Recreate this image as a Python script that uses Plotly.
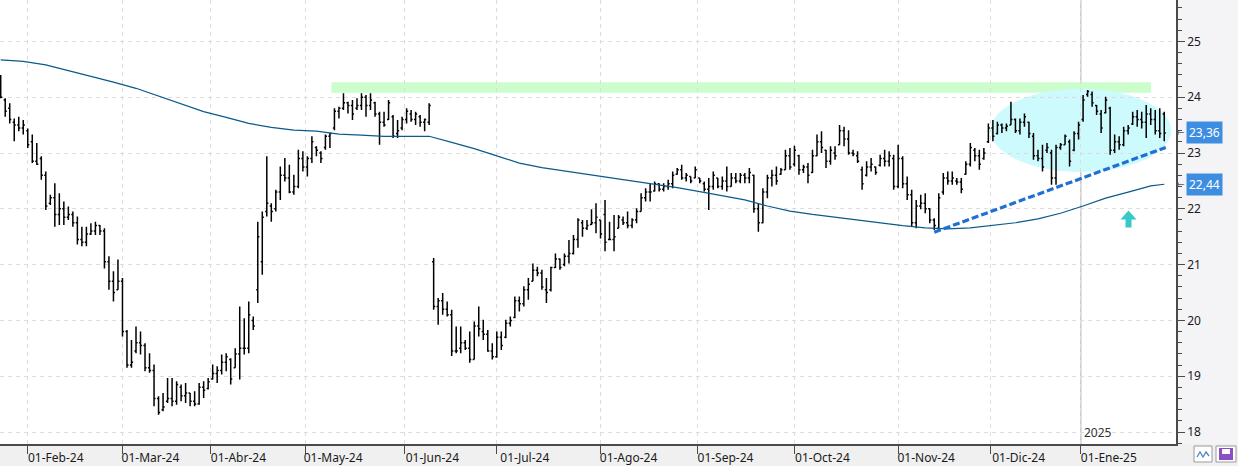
import pandas as pd
import plotly.graph_objects as go

# ---------------- data ----------------
FIRST_DAY = "2024-01-24"
LAST_DAY = "2025-01-28"
HOLIDAYS = ["2024-03-29", "2024-04-01", "2024-05-01", "2024-12-25", "2024-12-26", "2025-01-01"]

HIGH = [24.40, 23.98, 23.89, 23.62, 23.65, 23.59, 23.44, 23.33, 23.18, 22.94,
        22.67, 22.25, 22.46, 22.28, 22.13, 22.04, 21.95, 21.86, 21.68, 21.68,
        21.74, 21.77, 21.71, 21.65, 21.15, 20.88, 21.09, 20.76, 19.83, 19.65,
        19.89, 19.80, 19.59, 19.41, 19.21, 18.64, 18.70, 18.97, 18.97, 18.91,
        18.85, 18.88, 18.70, 18.73, 18.88, 18.91, 18.97, 19.21, 19.18, 19.39,
        19.41, 19.32, 19.50, 20.25, 20.04, 20.34, 20.07, 21.77, 21.95, 22.94,
        22.10, 22.34, 22.76, 22.91, 22.79, 22.61, 23.06, 23.03, 22.94, 23.30,
        23.12, 23.03, 23.33, 23.36, 23.80, 23.83, 24.07, 23.92, 23.95, 23.98,
        24.07, 24.04, 24.07, 23.92, 23.74, 23.74, 23.95, 23.68, 23.59, 23.65,
        23.80, 23.77, 23.74, 23.68, 23.62, 23.89, 21.12, 20.40, 20.49, 20.34,
        20.19, 19.89, 19.89, 19.65, 19.80, 19.98, 20.25, 20.01, 19.83, 19.59,
        19.80, 19.80, 20.01, 20.07, 20.43, 20.43, 20.61, 20.76, 21.02, 20.96,
        20.91, 20.76, 20.96, 21.20, 21.11, 21.20, 21.44, 21.53, 21.83, 21.80,
        21.80, 21.99, 22.10, 21.80, 22.16, 21.77, 21.89, 21.89, 21.86, 21.95,
        21.83, 22.01, 22.28, 22.37, 22.46, 22.49, 22.46, 22.46, 22.52, 22.67,
        22.73, 22.79, 22.64, 22.58, 22.76, 22.55, 22.49, 22.55, 22.67, 22.55,
        22.58, 22.76, 22.64, 22.64, 22.64, 22.64, 22.73, 22.61, 22.10, 22.37,
        22.61, 22.70, 22.76, 22.73, 23.06, 23.09, 23.13, 22.97, 22.79, 22.82,
        23.06, 23.33, 23.39, 23.06, 23.12, 23.12, 23.50, 23.47, 23.41, 23.06,
        23.03, 22.76, 22.85, 22.91, 22.76, 22.97, 23.06, 23.03, 22.97, 23.15,
        22.94, 22.58, 22.34, 22.16, 22.25, 22.28, 22.01, 21.83, 22.28, 22.64,
        22.67, 22.67, 22.55, 22.55, 22.85, 23.18, 23.09, 23.06, 23.09, 23.53,
        23.59, 23.56, 23.53, 23.53, 23.92, 23.62, 23.62, 23.71, 23.56, 23.36,
        23.06, 23.15, 23.18, 23.06, 23.15, 23.18, 23.33, 23.24, 23.39, 23.56,
        24.04, 24.13, 24.10, 23.86, 23.77, 24.01, 23.83, 23.33, 23.30, 23.47,
        23.50, 23.74, 23.77, 23.74, 23.86, 23.80, 23.77, 23.80, 23.74]

LOW = [23.98, 23.65, 23.53, 23.21, 23.39, 23.33, 23.09, 22.82, 22.79, 22.52,
       21.98, 22.07, 21.68, 21.71, 21.71, 21.80, 21.68, 21.36, 21.33, 21.33,
       21.53, 21.53, 21.53, 20.93, 20.55, 20.34, 20.55, 19.71, 19.15, 19.15,
       19.41, 19.39, 19.09, 19.06, 18.46, 18.31, 18.37, 18.52, 18.46, 18.49,
       18.55, 18.52, 18.46, 18.46, 18.49, 18.61, 18.76, 18.94, 18.88, 19.03,
       19.09, 18.85, 19.15, 18.94, 19.39, 19.41, 19.83, 20.31, 20.82, 21.86,
       21.77, 21.95, 22.16, 22.49, 22.28, 22.25, 22.37, 22.67, 22.58, 22.82,
       22.94, 22.82, 23.06, 23.09, 23.41, 23.62, 23.77, 23.71, 23.59, 23.77,
       23.77, 23.65, 23.77, 23.65, 23.15, 23.47, 23.59, 23.27, 23.27, 23.41,
       23.53, 23.56, 23.50, 23.47, 23.39, 23.50, 20.19, 19.92, 20.10, 20.07,
       19.36, 19.41, 19.41, 19.47, 19.24, 19.30, 19.71, 19.65, 19.44, 19.30,
       19.33, 19.47, 19.68, 19.89, 20.04, 20.16, 20.25, 20.37, 20.70, 20.79,
       20.55, 20.31, 20.52, 20.94, 20.91, 20.97, 21.02, 21.18, 21.30, 21.50,
       21.62, 21.71, 21.56, 21.47, 21.24, 21.44, 21.24, 21.65, 21.71, 21.65,
       21.65, 21.74, 21.95, 22.13, 22.13, 22.31, 22.31, 22.31, 22.34, 22.37,
       22.61, 22.52, 22.49, 22.46, 22.55, 22.46, 22.31, 21.98, 22.34, 22.37,
       22.34, 22.31, 22.40, 22.46, 22.46, 22.46, 22.46, 21.93, 21.59, 21.74,
       22.19, 22.40, 22.43, 22.61, 22.70, 22.70, 22.76, 22.61, 22.64, 22.46,
       22.64, 22.94, 23.00, 22.73, 22.79, 22.88, 23.15, 23.12, 22.97, 22.94,
       22.82, 22.34, 22.58, 22.67, 22.61, 22.76, 22.76, 22.76, 22.34, 22.37,
       22.37, 22.16, 21.68, 21.65, 21.99, 21.92, 21.74, 21.62, 21.62, 22.25,
       22.43, 22.43, 22.43, 22.28, 22.61, 22.76, 22.85, 22.70, 22.88, 23.18,
       23.21, 23.33, 23.36, 23.39, 23.50, 23.36, 23.33, 23.47, 23.27, 22.88,
       22.85, 22.67, 23.00, 22.43, 22.43, 23.06, 23.15, 22.76, 23.03, 23.24,
       23.56, 24.01, 23.83, 23.68, 23.36, 23.71, 22.97, 23.00, 23.06, 23.12,
       23.33, 23.50, 23.47, 23.44, 23.27, 23.50, 23.33, 23.27, 23.21]

OPEN = [24.35, 23.95, 23.80, 23.55, 23.50, 23.45, 23.40, 23.20, 22.85, 22.90,
        22.60, 22.10, 22.20, 21.90, 22.00, 21.85, 21.90, 21.75, 21.45, 21.40,
        21.55, 21.60, 21.70, 21.60, 21.05, 20.70, 20.55, 20.70, 19.80, 19.20,
        19.45, 19.60, 19.55, 19.15, 19.10, 18.60, 18.40, 18.55, 18.60, 18.55,
        18.80, 18.65, 18.70, 18.55, 18.50, 18.80, 18.78, 18.95, 19.05, 19.10,
        19.25, 19.30, 19.15, 19.40, 19.50, 19.50, 20.00, 20.55, 21.05, 21.95,
        22.05, 22.00, 22.30, 22.60, 22.55, 22.30, 22.40, 22.90, 22.75, 22.90,
        23.10, 23.00, 23.10, 23.30, 23.45, 23.75, 23.80, 23.90, 23.85, 23.80,
        23.85, 24.00, 23.85, 23.90, 23.70, 23.55, 23.60, 23.65, 23.35, 23.45,
        23.60, 23.70, 23.60, 23.65, 23.55, 23.55, 21.05, 20.25, 20.35, 20.20,
        20.10, 19.45, 19.50, 19.60, 19.50, 19.30, 19.90, 19.80, 19.75, 19.45,
        19.35, 19.70, 19.70, 19.95, 20.05, 20.35, 20.30, 20.55, 20.70, 20.90,
        20.85, 20.55, 20.55, 20.95, 21.10, 21.00, 21.15, 21.20, 21.45, 21.75,
        21.65, 21.72, 21.75, 21.80, 21.90, 21.45, 21.45, 21.65, 21.80, 21.75,
        21.70, 21.80, 21.95, 22.20, 22.30, 22.32, 22.45, 22.35, 22.40, 22.45,
        22.62, 22.70, 22.55, 22.58, 22.55, 22.55, 22.45, 22.35, 22.40, 22.55,
        22.40, 22.50, 22.40, 22.55, 22.50, 22.60, 22.55, 22.60, 22.00, 21.75,
        22.30, 22.55, 22.60, 22.62, 22.70, 22.95, 22.80, 22.95, 22.70, 22.75,
        22.65, 22.95, 23.20, 23.05, 22.85, 23.00, 23.15, 23.40, 23.25, 23.00,
        22.95, 22.70, 22.60, 22.75, 22.75, 22.78, 22.90, 22.85, 22.90, 22.40,
        22.90, 22.45, 22.25, 21.75, 22.05, 22.10, 22.00, 21.80, 21.65, 22.30,
        22.55, 22.50, 22.50, 22.48, 22.62, 22.80, 23.05, 22.95, 22.90, 23.20,
        23.45, 23.35, 23.50, 23.45, 23.50, 23.60, 23.40, 23.55, 23.55, 23.30,
        22.95, 22.90, 23.05, 23.00, 22.55, 23.10, 23.15, 23.20, 23.05, 23.35,
        23.60, 24.05, 24.05, 23.85, 23.70, 23.72, 23.80, 23.05, 23.20, 23.15,
        23.40, 23.52, 23.65, 23.60, 23.55, 23.70, 23.60, 23.40, 23.70]

CLOSE = [24.00, 23.75, 23.60, 23.50, 23.45, 23.50, 23.15, 22.85, 22.80, 22.60,
         22.05, 22.20, 21.90, 22.00, 21.85, 21.90, 21.75, 21.45, 21.40, 21.55,
         21.60, 21.70, 21.60, 21.05, 20.70, 20.50, 20.70, 19.80, 19.20, 19.25,
         19.60, 19.55, 19.15, 19.10, 18.60, 18.35, 18.45, 18.60, 18.55, 18.85,
         18.65, 18.70, 18.55, 18.50, 18.80, 18.75, 18.90, 19.05, 19.10, 19.25,
         19.35, 18.95, 19.40, 19.50, 19.50, 20.10, 19.90, 21.50, 21.85, 22.10,
         21.95, 22.30, 22.60, 22.55, 22.30, 22.40, 22.90, 22.75, 22.90, 23.20,
         23.05, 22.90, 23.30, 23.35, 23.75, 23.80, 23.90, 23.85, 23.70, 23.85,
         24.00, 23.85, 23.95, 23.70, 23.55, 23.50, 23.90, 23.30, 23.40, 23.60,
         23.75, 23.60, 23.70, 23.55, 23.60, 23.85, 20.25, 20.35, 20.20, 20.10,
         19.45, 19.45, 19.60, 19.50, 19.30, 19.90, 19.85, 19.75, 19.45, 19.35,
         19.70, 19.55, 19.95, 20.00, 20.35, 20.30, 20.55, 20.65, 20.90, 20.85,
         20.60, 20.50, 20.95, 21.10, 20.95, 21.15, 21.20, 21.45, 21.80, 21.65,
         21.70, 21.75, 21.85, 21.55, 21.40, 21.45, 21.50, 21.85, 21.75, 21.70,
         21.80, 21.95, 22.20, 22.30, 22.30, 22.45, 22.35, 22.40, 22.45, 22.60,
         22.70, 22.55, 22.60, 22.50, 22.70, 22.50, 22.35, 22.40, 22.60, 22.40,
         22.50, 22.40, 22.55, 22.50, 22.60, 22.55, 22.65, 22.00, 21.75, 22.30,
         22.55, 22.60, 22.50, 22.70, 22.95, 22.75, 23.05, 22.70, 22.75, 22.60,
         22.95, 23.20, 23.10, 22.85, 23.05, 22.95, 23.40, 23.25, 23.00, 22.98,
         22.85, 22.45, 22.75, 22.80, 22.65, 22.90, 22.85, 22.95, 22.40, 22.90,
         22.45, 22.25, 21.75, 22.05, 22.10, 22.00, 21.80, 21.70, 22.20, 22.55,
         22.50, 22.55, 22.48, 22.35, 22.80, 23.10, 22.95, 22.80, 23.00, 23.45,
         23.30, 23.50, 23.45, 23.48, 23.60, 23.40, 23.55, 23.65, 23.35, 22.95,
         22.90, 22.75, 23.10, 22.55, 23.10, 23.15, 23.30, 22.85, 23.35, 23.50,
         23.95, 24.10, 23.90, 23.75, 23.45, 23.95, 23.05, 23.20, 23.15, 23.40,
         23.45, 23.65, 23.60, 23.55, 23.70, 23.60, 23.40, 23.35, 23.36]

# long moving average, read every 5 sessions (session number, 1-based)
MA_SESSION = list(range(1, 257, 5)) + [259]
MA_VALUES = [24.67, 24.64, 24.58, 24.48, 24.37, 24.27, 24.16, 24.02, 23.89, 23.74,
             23.64, 23.53, 23.46, 23.41, 23.39, 23.34, 23.32, 23.30, 23.30, 23.30,
             23.19, 23.08, 22.95, 22.82, 22.74, 22.68, 22.62, 22.57, 22.51, 22.45,
             22.38, 22.31, 22.23, 22.16, 22.05, 21.96, 21.90, 21.85, 21.80, 21.74,
             21.70, 21.66, 21.64, 21.66, 21.71, 21.75, 21.82, 21.92, 22.05, 22.19,
             22.30, 22.41, 22.44]

# support trend line (dashed blue)
TREND_DATES = ["2024-11-13 12:00", "2025-01-28 20:00"]
TREND_VALUES = [21.58, 23.10]

# resistance band and highlighted zone
BAND_DATES = ["2024-05-09 20:00", "2025-01-23 14:00"]
BAND_VALUES = [24.08, 24.27]
ZONE_DATES = ["2024-12-02 00:00", "2025-01-30 01:00"]
ZONE_VALUES = [22.66, 24.15]

MONTH_LABELS = ["01-Feb-24", "01-Mar-24", "01-Abr-24", "01-May-24", "01-Jun-24", "01-Jul-24",
                "01-Ago-24", "01-Sep-24", "01-Oct-24", "01-Nov-24", "01-Dic-24", "01-Ene-25"]
MONTH_STARTS = ["2024-02-01", "2024-03-01", "2024-04-01", "2024-05-01", "2024-06-01", "2024-07-01",
                "2024-08-01", "2024-09-01", "2024-10-01", "2024-11-01", "2024-12-01", "2025-01-01"]
Y_TICKS = [18, 19, 20, 21, 22, 23, 24, 25]

# ---------------- build ----------------
hol = pd.to_datetime(HOLIDAYS)
days = pd.bdate_range(FIRST_DAY, LAST_DAY)
days = days[~days.isin(hol)]
assert len(days) == len(HIGH) == len(LOW) == len(OPEN) == len(CLOSE)
x_days = days + pd.Timedelta(hours=12)

ma_x = [x_days[i - 1] for i in MA_SESSION]

tickvals = []
for m in MONTH_STARTS:
    d = pd.Timestamp(m)
    first = days[days >= d][0]
    tickvals.append(first + pd.Timedelta(hours=12) if first == d else first)

W, H = 1238, 466
ML, MR, MT, MB = 0, 62, 0, 22
PW, PH = W - ML - MR, H - MT - MB


def px(v):
    return (v - ML) / PW


def py(v):
    return 1 - (v - MT) / PH


FONT = "Noto Sans, Open Sans, sans-serif"
GRID = "#dcdcdc"
AX = "#4a4a4a"

fig = go.Figure()

fig.add_trace(go.Ohlc(
    x=x_days, open=OPEN, high=HIGH, low=LOW, close=CLOSE,
    increasing=dict(line=dict(color="#000000", width=1.5)),
    decreasing=dict(line=dict(color="#000000", width=1.5)),
    tickwidth=0.35, showlegend=False, hoverinfo="skip"))

fig.add_trace(go.Scatter(x=ma_x, y=MA_VALUES, mode="lines",
                         line=dict(color="#0b5a8a", width=1.25),
                         showlegend=False, hoverinfo="skip"))

fig.add_trace(go.Scatter(x=pd.to_datetime(TREND_DATES), y=TREND_VALUES, mode="lines",
                         line=dict(color="#1f6fd6", width=3.2, dash="7px,3px"),
                         showlegend=False, hoverinfo="skip"))

shapes = []
# right panel background
shapes.append(dict(type="rect", xref="paper", yref="paper", x0=1.0, x1=px(W), y0=0, y1=1,
                   fillcolor="#f4f4f7", line=dict(width=0), layer="below"))
# resistance band
shapes.append(dict(type="rect", xref="x", yref="y", x0=BAND_DATES[0], x1=BAND_DATES[1],
                   y0=BAND_VALUES[0], y1=BAND_VALUES[1], fillcolor="#ccfdcc",
                   line=dict(width=0), layer="below"))
# highlighted zone (ellipse)
shapes.append(dict(type="circle", xref="x", yref="y", x0=ZONE_DATES[0], x1=ZONE_DATES[1],
                   y0=ZONE_VALUES[0], y1=ZONE_VALUES[1], fillcolor="#ccfafd",
                   line=dict(width=0), layer="below"))
# year separator
shapes.append(dict(type="line", xref="x", yref="paper", x0=tickvals[-1], x1=tickvals[-1],
                   y0=0, y1=1, line=dict(color="#c8c8c8", width=1.5), layer="below"))
# turquoise arrow
arrow = [(1128.5, 210.5), (1136.5, 219.5), (1131.5, 219.5), (1131.5, 227.5),
         (1125.5, 227.5), (1125.5, 219.5), (1120.5, 219.5)]
path = "M " + " L ".join(f"{px(a):.5f},{py(b):.5f}" for a, b in arrow) + " Z"
shapes.append(dict(type="path", xref="paper", yref="paper", path=path,
                   fillcolor="#38c9c9", line=dict(width=0)))
# bottom-right buttons
for x0, x1 in [(1194, 1212), (1216, 1236)]:
    shapes.append(dict(type="rect", xref="paper", yref="paper", x0=px(x0), x1=px(x1),
                       y0=py(462), y1=py(446), fillcolor="#ffffff",
                       line=dict(color="#9a9a9a", width=1)))
zig = [(1197, 457), (1200, 452), (1203, 457), (1206, 452), (1209, 456)]
shapes.append(dict(type="path", xref="paper", yref="paper",
                   path="M " + " L ".join(f"{px(a):.5f},{py(b):.5f}" for a, b in zig),
                   line=dict(color="#4f86c6", width=1.3)))
shapes.append(dict(type="rect", xref="paper", yref="paper", x0=px(1219), x1=px(1233),
                   y0=py(460), y1=py(448), fillcolor="#8a4fc4", line=dict(width=0)))
shapes.append(dict(type="rect", xref="paper", yref="paper", x0=px(1222), x1=px(1230),
                   y0=py(454), y1=py(449), fillcolor="#ffffff", line=dict(width=0)))

annotations = []
for val in [CLOSE[-1], MA_VALUES[-1]]:
    annotations.append(dict(xref="paper", yref="y", x=px(1186), y=val, xanchor="left",
                            yanchor="middle", text=f"{val:.2f}".replace(".", ","),
                            showarrow=False, bgcolor="#3d8ee0", borderpad=2,
                            font=dict(family=FONT, size=12, color="#ffffff")))
    annotations.append(dict(xref="paper", yref="y", x=px(1186), y=val, xanchor="right",
                            yanchor="middle", text="←", showarrow=False,
                            font=dict(family="DejaVu Sans", size=10, color="#555555")))
annotations.append(dict(xref="x", yref="paper", x=tickvals[-1], y=0.0, xanchor="left",
                        yanchor="bottom", xshift=1, yshift=1, text="2025", showarrow=False,
                        font=dict(family=FONT, size=12, color="#333333")))

fig.update_layout(
    width=W, height=H, autosize=False,
    margin=dict(l=ML, r=MR, t=MT, b=MB, pad=0),
    paper_bgcolor="#f0f0f0", plot_bgcolor="#ffffff",
    showlegend=False, hovermode=False,
    font=dict(family=FONT, size=12, color="#1a1a1a"),
    shapes=shapes, annotations=annotations,
    xaxis=dict(
        type="date",
        range=["2024-01-24 08:15", "2025-01-31 02:30"],
        rangebreaks=[dict(bounds=["sat", "mon"]), dict(values=HOLIDAYS)],
        rangeslider=dict(visible=False),
        tickmode="array", tickvals=tickvals, ticktext=MONTH_LABELS,
        ticks="outside", ticklen=8, tickwidth=1, tickcolor=AX,
        ticklabelshift=28, ticklabelstandoff=-6,
        tickfont=dict(family=FONT, size=12, color="#1a1a1a"),
        showgrid=True, gridcolor=GRID, griddash="4px,4px", gridwidth=1,
        showline=True, linecolor=AX, linewidth=1.5, zeroline=False,
        fixedrange=True),
    yaxis=dict(
        side="right", range=[17.785, 25.742],
        tickmode="array", tickvals=Y_TICKS, ticktext=[str(v) for v in Y_TICKS],
        ticks="outside", ticklen=7, tickwidth=1, tickcolor=AX,
        minor=dict(dtick=0.2, tick0=0, ticks="outside", ticklen=4, tickcolor=AX, showgrid=False),
        tickfont=dict(family=FONT, size=12, color="#1a1a1a"),
        showgrid=True, gridcolor=GRID, griddash="4px,4px", gridwidth=1,
        showline=True, linecolor=AX, linewidth=1.5, zeroline=False,
        fixedrange=True),
)

fig.write_html("out.html", config={"displayModeBar": False},
               post_script="document.body.style.margin='0';document.body.style.overflow='hidden';")
